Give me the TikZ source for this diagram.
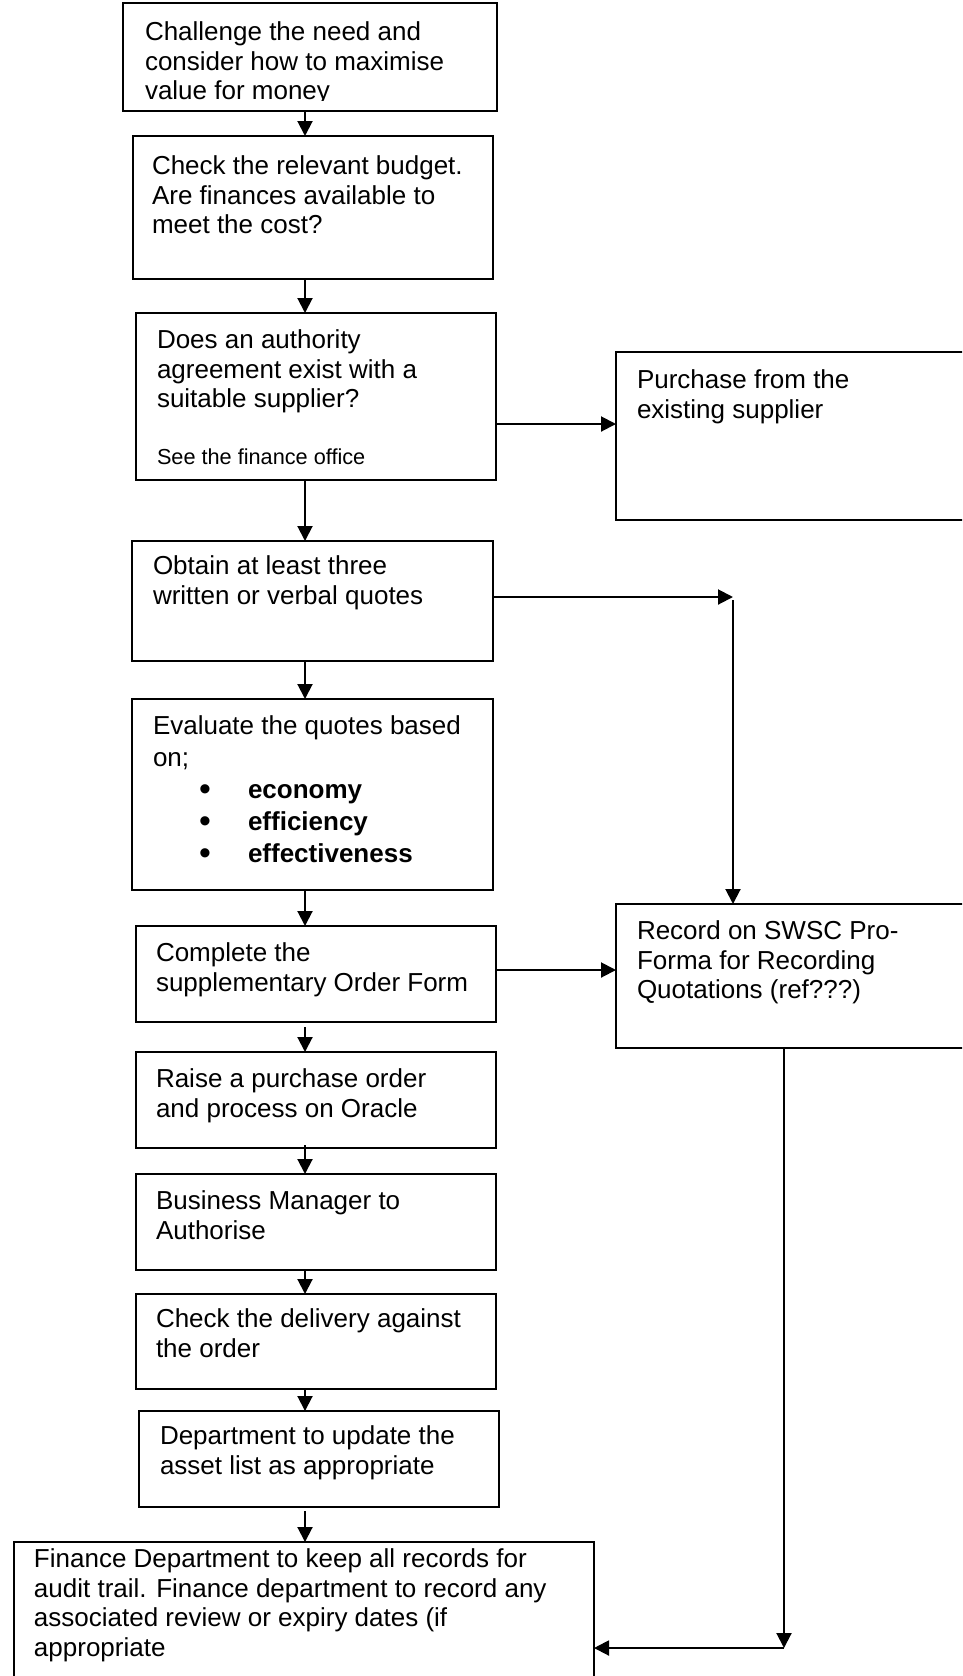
\documentclass[tikz,border=0pt]{standalone}
\usepackage{fontspec}
\setmainfont{Liberation Sans}
\usetikzlibrary{arrows.meta}
\tikzset{
  box/.style={draw, line width=2pt, rectangle, inner sep=0pt, outer sep=0pt, anchor=north west},
  txt/.style={anchor=north west, inner sep=0pt, outer sep=0pt, align=left, font=\fontsize{26}{29.5}\selectfont},
  smalltxt/.style={anchor=base west, inner sep=0pt, outer sep=0pt, font=\fontsize{21.7}{25}\selectfont},
  arr/.style={line width=2pt, -{Triangle[length=15pt,width=15pt]}},
}
\newcommand{\bitem}[1]{\makebox[95pt][l]{\hspace*{46pt}\raisebox{-2.5pt}{\scalebox{1.3}{\textbullet}}}\textbf{#1}}
\begin{document}
\begin{tikzpicture}[x=1pt,y=-1pt]
\clip (0,0) rectangle (962,1676);
% boxes
\node[box, minimum width=374pt, minimum height=108pt] (b1) at (123,3) {};
\node[box, minimum width=360pt, minimum height=143pt] (b2) at (133,136) {};
\node[box, minimum width=360pt, minimum height=167pt] (b3) at (136,313) {};
\node[box, minimum width=361pt, minimum height=120pt] (b4) at (132,541) {};
\node[box, minimum width=361pt, minimum height=191pt] (b5) at (132,699) {};
\node[box, minimum width=360pt, minimum height=96pt] (b6) at (136,926) {};
\node[box, minimum width=360pt, minimum height=96pt] (b7) at (136,1052) {};
\node[box, minimum width=360pt, minimum height=96pt] (b8) at (136,1174) {};
\node[box, minimum width=360pt, minimum height=95pt] (b9) at (136,1294) {};
\node[box, minimum width=360pt, minimum height=96pt] (b10) at (139,1411) {};
\node[box, minimum width=580pt, minimum height=180pt] (b11) at (14,1542) {};
\node[box, minimum width=400pt, minimum height=168pt] (p) at (616,352) {};
\node[box, minimum width=400pt, minimum height=144pt] (r) at (616,904) {};
% texts
\begin{scope}
\clip (123,3) rectangle (497,100.5);
\node[txt] (t1) at (145,20) {\strut Challenge the need and\\consider how to maximise\\value for money};
\end{scope}
\node[txt] (t2) at (152,154) {\strut Check the relevant budget.\\Are finances available to\\meet the cost?};
\node[txt] (t3) at (157,328) {\strut Does an authority\\agreement exist with a\\suitable supplier?};
\node[smalltxt] (t3s) at (157,464) {See the finance office};
\node[txt] (tp) at (637,368) {\strut Purchase from the\\existing supplier};
\node[txt] (t4) at (153,554) {\strut Obtain at least three\\written or verbal quotes};
\node[txt, font=\fontsize{26}{32}\selectfont] (t5) at (153,712) {\strut Evaluate the quotes based\\on;\\\bitem{economy}\\\bitem{efficiency}\\\bitem{effectiveness}};
\node[txt] (t6) at (156,941) {\strut Complete the\\supplementary Order Form};
\node[txt] (t7) at (156,1067) {\strut Raise a purchase order\\and process on Oracle};
\node[txt] (t8) at (156,1189) {\strut Business Manager to\\Authorise};
\node[txt] (t9) at (156,1307) {\strut Check the delivery against\\the order};
\node[txt] (t10) at (160,1424) {\strut Department to update the\\asset list as appropriate};
\node[txt] (t11) at (34,1547) {\strut Finance Department to keep all records for\\audit trail. Finance department to record any\\associated review or expiry dates (if\\appropriate};
\node[txt] (tr) at (637,919) {\strut Record on SWSC Pro-\\Forma for Recording\\Quotations (ref???)};
% connectors
\coordinate (sp) at (305,0);
\draw[arr] (b1.south -| sp) -- (b2.north -| sp);
\draw[arr] (b2.south -| sp) -- (b3.north -| sp);
\draw[arr] (b3.south -| sp) -- (b4.north -| sp);
\draw[arr] (b4.south -| sp) -- (b5.north -| sp);
\draw[arr] (b5.south -| sp) -- (b6.north -| sp);
\draw[arr] ([yshift=-5pt]b6.south -| sp) -- (b7.north -| sp);
\draw[arr] ([yshift=3pt]b7.south -| sp) -- (b8.north -| sp);
\draw[arr] (b8.south -| sp) -- (b9.north -| sp);
\draw[arr] (b9.south -| sp) -- (b10.north -| sp);
\draw[arr] ([yshift=-4pt]b10.south -| sp) -- (b11.north -| sp);
\draw[arr] (b3.east |- 0,424) -- (p.west |- 0,424);
\coordinate (c1) at (733,597);
\draw[arr] (b4.east |- c1) -- (c1);
\draw[arr] ([yshift=-3pt]c1) -- (r.north -| c1);
\draw[arr] (b6.east |- 0,970) -- (r.west |- 0,970);
\coordinate (c2) at (784,1648);
\draw[arr] (r.south -| c2) -- (c2);
\draw[arr] (c2) -- (b11.east |- c2);
\end{tikzpicture}
\end{document}
